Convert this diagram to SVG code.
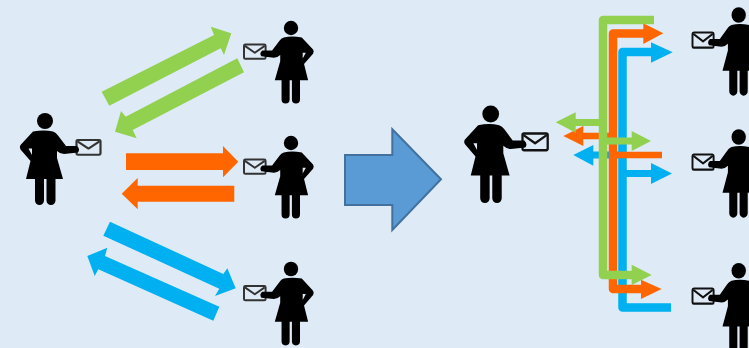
<svg xmlns="http://www.w3.org/2000/svg" width="749" height="348" viewBox="0 0 749 348">
<style>
.bus{fill:none;stroke-width:8.500;stroke-linejoin:round}
.g{fill:#92d050}.o{fill:#ff6600}.b{fill:#00b0f0}
.gs{stroke:#92d050}.os{stroke:#ff6600}.bs{stroke:#00b0f0}
.leg{stroke:#000;stroke-width:9;stroke-linecap:round;fill:none}
.env{fill:none;stroke-width:2.200;stroke-linejoin:round}
.dim{stroke:#333}.dark{stroke:#111}
</style>
<defs>
<g id="person">
<circle cx="0" cy="0" r="8" fill="#000"/>
<path fill="#000" fill-rule="evenodd" d="M-12,10.500 Q-1,8.500 8,10.500 Q11,11.500 13,14.500 L21,25 L32,25 Q35.500,28 33,31.500 L19,33 Q15,33 12,30 L12,37 L18,58 L-19,58 L-14.500,40 L-24.500,28.500 Q-26,26 -24.500,24 Z M-16.500,27.500 L-13,34 L-13,27.500 Z"/>
<path class="leg" d="M-5.500,58 V79.500 M6,58 V79.500"/>
</g>
<g id="envelope">
<rect x="0" y="0" width="24" height="15.500" rx="1.500"/>
<path d="M1,1.500 L12,9 L23,1.500"/>
</g>
</defs>
<rect width="749" height="348" fill="#deebf7"/>
<g id="connectors">
<polygon class="g" points="101.700,91.700 214,35 210.700,26.700 231.300,33.300 224,55 220.700,48.300 109.300,105.700"/>
<polygon class="g" points="237.300,58.300 125.700,116.700 121,111 115,131.700 136.700,138.300 132.700,130 244,72.300"/>
<polygon class="o" points="126,153.300 223,153.300 223,146 238.300,161.700 223,177.300 223,170 126,170"/>
<polygon class="o" points="234.300,185.700 137.700,185.700 137.700,178 121.700,193.700 137.700,209.300 137.700,201.700 234.300,201.700"/>
<polygon class="b" points="110,221.700 223.300,274 227.300,268.300 235.700,288.300 215,296 219.300,288.700 103.300,235.700"/>
<polygon class="b" points="219.300,306.700 105,256 107.300,247.700 87.300,256 94.700,276 98.300,269.300 213.300,320.700"/>
<polygon id="transition-arrow" points="345,155 392.300,155 392.300,129.300 441,179.300 392.300,230 392.300,205 345,205" fill="#5b9bd5" stroke="#41719c" stroke-width="2"/>
<path class="bus bs" d="M652,52 H622.500 V307.500 H671"/>
<path class="bs" stroke-width="7" d="M593,155 H622 M622,173.500 H652" fill="none"/>
<polygon class="b" points="651,42.300 672.700,52.300 651,62.700"/>
<polygon class="b" points="593.300,145 573.300,155 593.300,165.700"/>
<polygon class="b" points="651,163 672,173.500 651,184"/>
<path class="bus os" d="M644,33.500 H613 V289 H642"/>
<path class="os" stroke-width="6.500" d="M583,136 H613 M613,155 H662" fill="none"/>
<polygon class="o" points="643.300,23.300 663.300,33.300 643.300,44"/>
<polygon class="o" points="583.300,126 563.300,136 583.300,146"/>
<polygon class="o" points="641,279.700 661.700,289 641,299"/>
<path class="bus gs" d="M654,20 H603 V275 H632"/>
<path class="gs" stroke-width="7" d="M575,122.500 H603 M603,141 H632" fill="none"/>
<polygon class="g" points="575.700,112.300 555.700,122.300 575.700,132.700"/>
<polygon class="g" points="631.700,131 651,141 631.700,151"/>
<polygon class="g" points="631.700,264.700 651.700,275 631.700,285"/>
</g>
<g id="sender-left"><use href="#envelope" class="env dim" transform="translate(76.500,140) scale(1,0.95)"/><use href="#person" transform="translate(45,121)"/></g>
<g id="receiver-left-top"><use href="#envelope" class="env dim" transform="translate(244,44.500) scale(0.9,0.92)"/><use href="#person" transform="translate(291,28) scale(-0.9,0.9)"/></g>
<g id="receiver-left-middle"><use href="#envelope" class="env dim" transform="translate(244,159.500) scale(0.9,0.92)"/><use href="#person" transform="translate(291,143) scale(-0.9,0.9)"/></g>
<g id="receiver-left-bottom"><use href="#envelope" class="env dim" transform="translate(244,286) scale(0.9,0.92)"/><use href="#person" transform="translate(291,269) scale(-0.9,0.91)"/></g>
<g id="sender-right"><use href="#envelope" class="env dark" transform="translate(522.500,133.500) scale(1.05,1.08)"/><use href="#person" transform="translate(490.700,114) scale(1.05,1.06)"/></g>
<g id="receiver-right-top"><use href="#envelope" class="env dark" transform="translate(692.500,32.500) scale(0.88,0.98)"/><use href="#person" transform="translate(738.700,15) scale(-0.9,0.96)"/></g>
<g id="receiver-right-middle"><use href="#envelope" class="env dark" transform="translate(692.500,154.500) scale(0.88,0.98)"/><use href="#person" transform="translate(738.700,137) scale(-0.9,0.96)"/></g>
<g id="receiver-right-bottom"><use href="#envelope" class="env dark" transform="translate(692.500,288.500) scale(0.88,0.98)"/><use href="#person" transform="translate(738.700,270.700) scale(-0.9,0.96)"/></g>
</svg>
